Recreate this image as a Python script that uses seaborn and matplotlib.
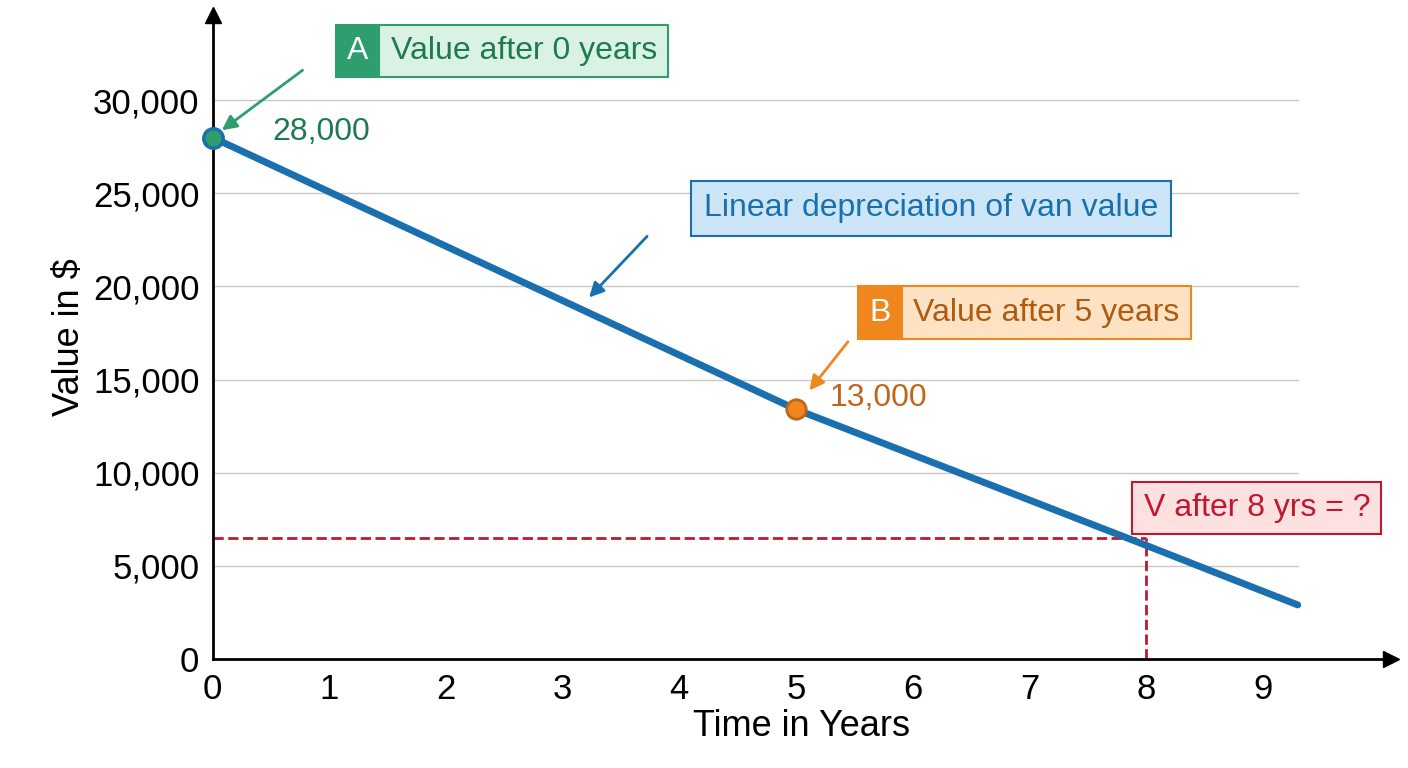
import matplotlib
matplotlib.use('Agg')
import matplotlib.pyplot as plt
import seaborn as sns
import pandas as pd
from matplotlib.ticker import FuncFormatter

sns.set_style('white')
plt.rcParams['font.family'] = ['Liberation Sans', 'DejaVu Sans']
plt.rcParams['text.color'] = 'black'

years = [0, 5, 8, 9.3]
values = [28000, 13400, 6100, 2900]
target_x = 8
target_y = 6500
x_ticks = list(range(10))
y_ticks = [0, 5000, 10000, 15000, 20000, 25000, 30000]

BLUE = '#1a6faf'
GREEN = '#2e9e6e'
ORANGE = '#f0871e'
RED = '#c0182e'

df = pd.DataFrame({'year': years, 'value': values})

fig = plt.figure(figsize=(14.08, 7.68), dpi=100)
ax = fig.add_axes([0.151, 0.142, 0.837, 0.839])

for yv in y_ticks[1:]:
    ax.plot([0, 9.3], [yv, yv], color='#c8c8c8', lw=1, zorder=0)

sns.lineplot(data=df, x='year', y='value', color=BLUE, lw=5, ax=ax, zorder=3)

ax.plot([0, target_x], [target_y, target_y], ls='--', color=RED, lw=2, zorder=2)
ax.plot([target_x, target_x], [0, target_y], ls='--', color=RED, lw=2, zorder=2)

ax.plot(0, 28000, 'o', ms=14, mfc=GREEN, mec=BLUE, mew=2.5, zorder=5, clip_on=False)
ax.plot(5, 13400, 'o', ms=14, mfc=ORANGE, mec='#c0661a', mew=2, zorder=5)

ax.set_xlim(0, 10.1)
ax.set_ylim(0, 34600)
sns.despine(ax=ax)
ax.spines['left'].set_linewidth(2)
ax.spines['bottom'].set_linewidth(2)
ax.spines['left'].set_color('black')
ax.spines['bottom'].set_color('black')
ax.plot(1, 0, '>k', ms=12, transform=ax.transAxes, clip_on=False)
ax.plot(0, 1, '^k', ms=12, transform=ax.transAxes, clip_on=False)

ax.set_xticks(x_ticks)
ax.set_yticks(y_ticks)
ax.yaxis.set_major_formatter(FuncFormatter(lambda v, p: f'{int(v):,}'))
ax.tick_params(axis='x', direction='inout', length=16, width=2, labelsize=25, pad=2,
               colors='black')
ax.tick_params(axis='y', direction='out', length=6, width=1.5, labelsize=25, colors='black')
ax.set_xlabel('Time in Years', fontsize=26, color='black', labelpad=2)
ax.set_ylabel('Value in $', fontsize=26, color='black')

fs = 23
pad = 0.35


def badge_box(x, y, letter, label, dark, face, fg):
    off = pad * fs
    ax.annotate(letter, xy=(x, y), xytext=(-off, 0), textcoords='offset points',
                fontsize=fs, color='white', ha='right', va='center',
                bbox=dict(boxstyle=f'square,pad={pad}', fc=dark, ec=dark, lw=1.5))
    ax.annotate(label, xy=(x, y), xytext=(off, 0), textcoords='offset points',
                fontsize=fs, color=fg, ha='left', va='center',
                bbox=dict(boxstyle=f'square,pad={pad}', fc=face, ec=dark, lw=1.5))


badge_box(1.43, 32630, 'A', 'Value after 0 years', GREEN, '#d9f2e4', '#1e7a50')
ax.annotate('', xy=(0.06, 28300), xytext=(0.79, 31700),
            arrowprops=dict(arrowstyle='-|>', color=GREEN, lw=2, mutation_scale=22))
ax.text(0.51, 28280, '28,000', fontsize=fs, color='#1e7a50', va='center')

ax.text(6.16, 24190, 'Linear depreciation of van value', fontsize=fs, color=BLUE,
        ha='center', va='center',
        bbox=dict(boxstyle='square,pad=0.4', fc='#cde6f7', ec=BLUE, lw=1.5))
ax.annotate('', xy=(3.21, 19300), xytext=(3.74, 22800),
            arrowprops=dict(arrowstyle='-|>', color=BLUE, lw=2, mutation_scale=22))

badge_box(5.91, 18600, 'B', 'Value after 5 years', ORANGE, '#fde3c4', '#b05a10')
ax.annotate('', xy=(5.1, 14300), xytext=(5.46, 17150),
            arrowprops=dict(arrowstyle='-|>', color=ORANGE, lw=2, mutation_scale=22))
ax.text(5.29, 14030, '13,000', fontsize=fs, color='#c0661a', va='center')

ax.text(8.95, 8120, 'V after 8 yrs = ?', fontsize=fs, color=RED, ha='center', va='center',
        bbox=dict(boxstyle='square,pad=0.35', fc='#fde0e0', ec=RED, lw=1.5))

fig.savefig('out.png', dpi=100)
